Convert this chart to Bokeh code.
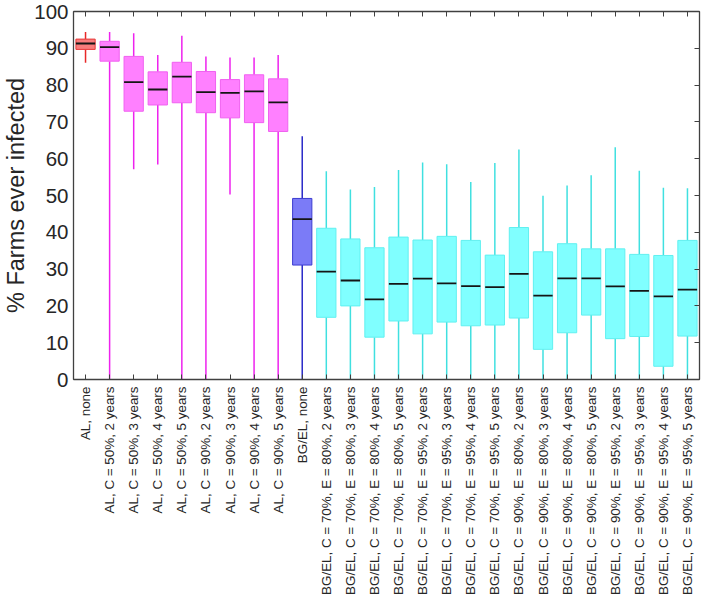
import numpy as np
from bokeh.plotting import figure
from bokeh.models import (ColumnDataSource, FactorRange, LinearAxis, CategoricalAxis,
                          FixedTicker, Range1d)
from bokeh.transform import dodge
from bokeh.embed import file_html
from bokeh.resources import INLINE

categories = [
    "AL, none",
    "AL, C = 50%, 2 years", "AL, C = 50%, 3 years", "AL, C = 50%, 4 years", "AL, C = 50%, 5 years",
    "AL, C = 90%, 2 years", "AL, C = 90%, 3 years", "AL, C = 90%, 4 years", "AL, C = 90%, 5 years",
    "BG/EL, none",
    "BG/EL, C = 70%, E = 80%, 2 years", "BG/EL, C = 70%, E = 80%, 3 years",
    "BG/EL, C = 70%, E = 80%, 4 years", "BG/EL, C = 70%, E = 80%, 5 years",
    "BG/EL, C = 70%, E = 95%, 2 years", "BG/EL, C = 70%, E = 95%, 3 years",
    "BG/EL, C = 70%, E = 95%, 4 years", "BG/EL, C = 70%, E = 95%, 5 years",
    "BG/EL, C = 90%, E = 80%, 2 years", "BG/EL, C = 90%, E = 80%, 3 years",
    "BG/EL, C = 90%, E = 80%, 4 years", "BG/EL, C = 90%, E = 80%, 5 years",
    "BG/EL, C = 90%, E = 95%, 2 years", "BG/EL, C = 90%, E = 95%, 3 years",
    "BG/EL, C = 90%, E = 95%, 4 years", "BG/EL, C = 90%, E = 95%, 5 years",
]
upper_whisker = [94.4, 94.4, 94.1, 88.2, 93.4, 87.8, 87.5, 87.5, 88.2, 66.1,
                 56.6, 51.6, 52.3, 56.9, 59.0, 58.5, 53.7, 58.8,
                 62.5, 49.9, 52.7, 55.5, 63.1, 56.7, 52.1, 52.0]
q3 = [92.5, 91.9, 87.8, 83.6, 86.2, 83.7, 81.5, 82.8, 81.7, 49.2,
      41.1, 38.2, 35.8, 38.7, 37.9, 38.9, 37.8, 33.8,
      41.3, 34.7, 36.9, 35.5, 35.5, 34.0, 33.7, 37.8]
median = [91.3, 90.3, 80.8, 78.8, 82.3, 78.1, 77.9, 78.3, 75.3, 43.6,
          29.3, 26.9, 21.8, 26.0, 27.4, 26.1, 25.4, 25.1,
          28.7, 22.8, 27.5, 27.5, 25.3, 24.1, 22.6, 24.4]
q1 = [89.7, 86.5, 72.9, 74.6, 75.2, 72.5, 71.1, 69.8, 67.4, 31.1,
      16.9, 20.0, 11.5, 15.9, 12.4, 15.6, 14.6, 14.8,
      16.7, 8.2, 12.7, 17.5, 11.1, 11.7, 3.6, 11.8]
lower_whisker = [86.1, 0, 57.1, 58.4, 0, 0, 50.3, 0, 0, 0,
                 0, 0, 0, 0, 0, 0, 0, 0,
                 0, 0, 0, 0, 0, 0, 0, 0]
groups = ["AL none"] + ["AL"] * 8 + ["BG none"] + ["BG"] * 16
y_ticks = [0, 10, 20, 30, 40, 50, 60, 70, 80, 90, 100]

palette = {
    "AL none": ("#f87c7c", "#e83a3a", "#e82828"),
    "AL": ("#ff80ff", "#f060f0", "#ee22ee"),
    "BG none": ("#7b7bf7", "#3c3cd0", "#2a2ac8"),
    "BG": ("#80ffff", "#60f0f0", "#40e0e0"),
}

src = ColumnDataSource(dict(
    cat=categories, up=upper_whisker, q3=q3, med=median, q1=q1, lo=lower_whisker,
    fill=[palette[g][0] for g in groups],
    edge=[palette[g][1] for g in groups],
    wcol=[palette[g][2] for g in groups],
))

FONT = "Liberation Sans"
AXC = "#404040"

p = figure(width=701, height=597, output_backend="svg", toolbar_location=None,
           x_range=FactorRange(factors=categories, range_padding=0),
           y_range=Range1d(0, 100), min_border_top=11, min_border_right=2,
           min_border_left=0, min_border_bottom=0)
p.xgrid.visible = False
p.ygrid.visible = False
p.outline_line_color = AXC
p.background_fill_color = "white"
p.border_fill_color = "white"

# whiskers
p.segment(x0="cat", x1="cat", y0="q3", y1="up", line_color="wcol", line_width=1.5, source=src)
p.segment(x0="cat", x1="cat", y0="lo", y1="q1", line_color="wcol", line_width=1.5, source=src)
# boxes
p.vbar(x="cat", top="q3", bottom="q1", width=0.8, fill_color="fill", line_color="edge",
       line_width=1, source=src)
# medians
p.segment(x0=dodge("cat", -0.4, range=p.x_range), x1=dodge("cat", 0.4, range=p.x_range),
          y0="med", y1="med", line_color="#151515", line_width=1.8, source=src)

# left axis
ya = p.yaxis[0]
ya.ticker = FixedTicker(ticks=y_ticks)
ya.major_tick_in = 0
ya.major_tick_out = 0
ya.minor_tick_in = 0
ya.minor_tick_out = 0
ya.axis_line_color = AXC
ya.axis_line_width = 1.3
ya.major_label_text_font = FONT
ya.major_label_text_font_size = "20.5px"
ya.major_label_text_color = "#262626"
ya.major_label_standoff = 5
ya.axis_label = "% Farms ever infected"
ya.axis_label_text_font = FONT
ya.axis_label_text_font_size = "23.5px"
ya.axis_label_text_font_style = "normal"
ya.axis_label_text_color = "#262626"
ya.axis_label_standoff = 2

# bottom axis
xa = p.xaxis[0]
xa.major_label_orientation = np.pi / 2
xa.major_label_text_font = FONT
xa.major_label_text_font_size = "13.4px"
xa.major_label_text_color = "#262626"
xa.major_label_standoff = 7
xa.major_tick_in = 5
xa.major_tick_out = 0
xa.major_tick_line_color = AXC
xa.axis_line_color = AXC
xa.axis_line_width = 1.3

# right axis (ticks only)
ra = LinearAxis(ticker=FixedTicker(ticks=y_ticks), major_tick_in=5, major_tick_out=0,
                minor_tick_in=0, minor_tick_out=0, major_label_text_font_size="1px",
                major_label_text_color=None,
                major_label_standoff=0, axis_line_color=AXC, axis_line_width=1.3,
                major_tick_line_color=AXC)
p.add_layout(ra, "right")

# top axis (ticks only)
ta = CategoricalAxis(major_tick_in=5, major_tick_out=0, major_label_text_font_size="1px",
                     major_label_text_color=None,
                     major_label_standoff=0, axis_line_color=AXC, axis_line_width=1.3,
                     major_tick_line_color=AXC)
p.add_layout(ta, "above")

open("out.html", "w").write(file_html(p, INLINE))
